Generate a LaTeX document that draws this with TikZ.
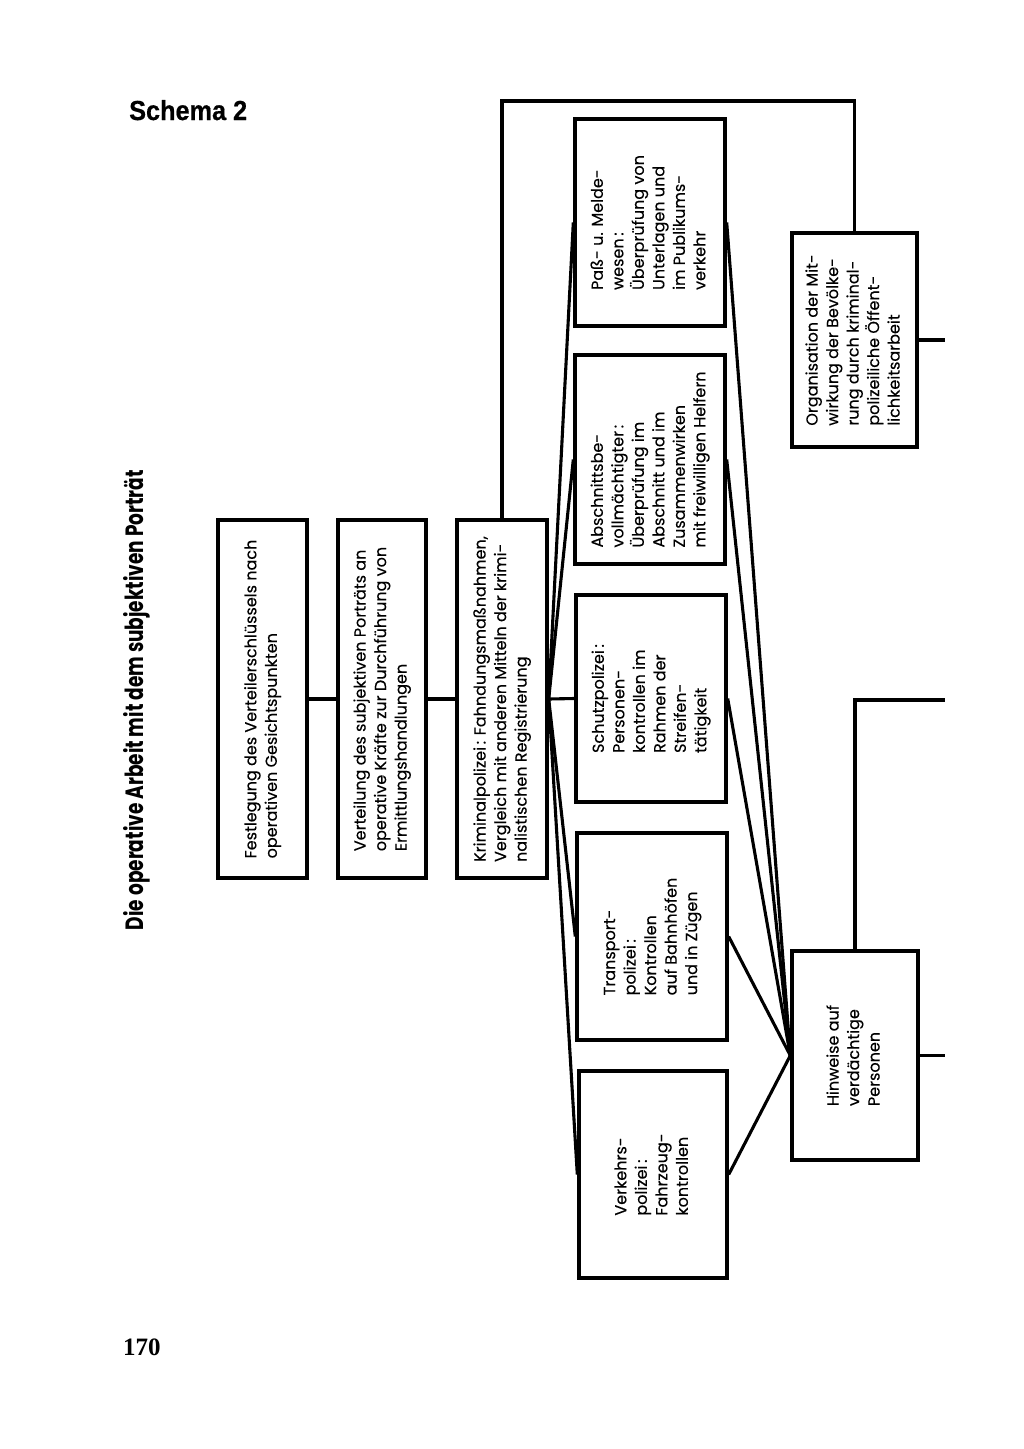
\documentclass[tikz,border=0pt]{standalone}
\usepackage{fontspec}
\usepackage{graphicx}
\setmainfont{Poppins}[FakeBold=0.25]
\newfontfamily\headfont{Poppins}
\newfontfamily\helvfont{Liberation Sans}[FakeBold=0.6]
\newfontfamily\pagenumfont{Liberation Serif}
\newcommand{\bxt}[1]{\rotatebox{90}{\begin{tabular}{@{}l@{}}#1\end{tabular}}}
\tikzset{
  boxnode/.style={draw, line width=3.4pt, inner sep=0pt, font=\fontsize{16}{20.5}\selectfont},
  conn/.style={line width=3.1pt},
}
\begin{document}
\begin{tikzpicture}[x=1pt,y=-1pt]
\fill[white] (0,0) rectangle (1024,1449);
\useasboundingbox (0,0) rectangle (1024,1449);

\node[anchor=base west, inner sep=0pt, font=\helvfont\bfseries\fontsize{27.5}{30}\selectfont] (title) at (129,120) {\resizebox{118pt}{\height}{Schema 2}};
\node[inner sep=0pt, font=\headfont\bfseries\fontsize{25}{30}\selectfont] (head) at (137,700) {\rotatebox{90}{\resizebox{460pt}{\height}{Die operative Arbeit mit dem subjektiven Porträt}}};
\node[anchor=base west, inner sep=0pt, font=\pagenumfont\bfseries\fontsize{25}{30}\selectfont] (pg) at (123,1355) {170};

\node[boxnode, minimum width=89pt, minimum height=358pt] (b1) at (262.5,699) {\bxt{Festlegung des Verteilerschlüssels nach\\ operativen Gesichtspunkten}};
\node[boxnode, minimum width=88pt, minimum height=358pt] (b2) at (382,699) {\bxt{Verteilung des subjektiven Porträts an\\ operative Kräfte zur Durchführung von\\ Ermittlungshandlungen}};
\node[boxnode, minimum width=90pt, minimum height=358pt] (b3) at (502,699) {\bxt{Kriminalpolizei\,: Fahndungsmaßnahmen,\\ Vergleich mit anderen Mitteln der krimi-\\ nalistischen Registrierung}};

\node[boxnode, minimum width=150pt, minimum height=207pt] (p1) at (650,222.5) {\bxt{Paß- u. Melde-\\ wesen\,:\\ Überprüfung von\\ Unterlagen und\\ im Publikums-\\ verkehr}};
\node[boxnode, minimum width=150pt, minimum height=209pt] (p2) at (650,459.5) {\bxt{Abschnittsbe-\\ vollmächtigter\,:\\ Überprüfung im\\ Abschnitt und im\\ Zusammenwirken\\ mit freiwilligen Helfern}};
\node[boxnode, minimum width=150pt, minimum height=207pt] (p3) at (651,698.5) {\bxt{Schutzpolizei\,:\\ Personen-\\ kontrollen im\\ Rahmen der\\ Streifen-\\ tätigkeit}};
\node[boxnode, minimum width=150pt, minimum height=207pt] (p4) at (652,936.5) {\bxt{Transport-\\ polizei\,:\\ Kontrollen\\ auf Bahnhöfen\\ und in Zügen}};
\node[boxnode, minimum width=148pt, minimum height=207pt] (p5) at (653,1174.5) {\bxt{Verkehrs-\\ polizei\,:\\ Fahrzeug-\\ kontrollen}};

\node[boxnode, minimum width=126pt, minimum height=209pt] (hw) at (855,1055.5) {\bxt{Hinweise auf\\ verdächtige\\ Personen}};
\node[boxnode, minimum width=125pt, minimum height=214pt] (org) at (854.5,340) {\bxt{Organisation der Mit-\\ wirkung der Bevölke-\\ rung durch kriminal-\\ polizeiliche Öffent-\\ lichkeitsarbeit}};

\draw[conn] (b1.east) -- (b2.west);
\draw[conn] (b2.east) -- (b3.west);
\foreach \p in {p1,p2,p3,p4,p5} {
  \draw[conn] (b3.east) -- (\p.west);
  \draw[conn] (\p.east) -- (hw.west);
}
\coordinate (topl) at (700,101);
\draw[conn] (b3.north) |- (topl) -| (org.north);
\coordinate (os) at (945,340);
\draw[conn] (org.east) -- (os);
\coordinate (hs1) at (945,700);
\draw[conn] (hw.north) |- (hs1);
\coordinate (hs2) at (945,1055.5);
\draw[conn] (hw.east) -- (hs2);
\end{tikzpicture}
\end{document}
